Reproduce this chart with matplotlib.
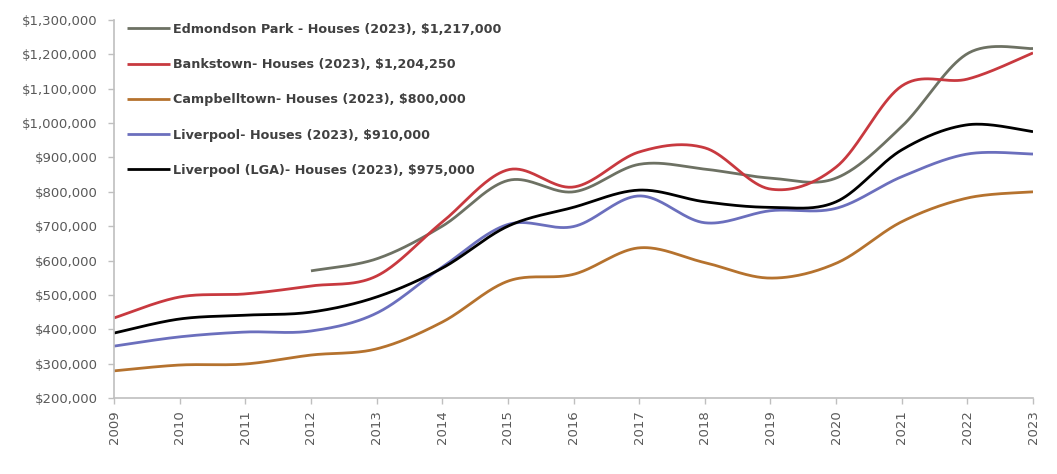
import numpy as np
import matplotlib
matplotlib.use("Agg")
import matplotlib.pyplot as plt
from matplotlib.ticker import FuncFormatter, MultipleLocator

years = [2009, 2010, 2011, 2012, 2013, 2014, 2015, 2016, 2017, 2018, 2019, 2020, 2021, 2022, 2023]

edmondson = [None, None, None, 570000, 605000, 700000, 833000, 800000, 880000, 866000, 840000, 840000, 990000, 1202000, 1217000]
bankstown = [433000, 494000, 503000, 526000, 555000, 712000, 864000, 814000, 916000, 928000, 808000, 872000, 1108000, 1128000, 1204250]
campbelltown = [279000, 296000, 299000, 325000, 343000, 421000, 540000, 560000, 637000, 594000, 549000, 592000, 713000, 782000, 800000]
liverpool = [351000, 378000, 392000, 395000, 447000, 581000, 705000, 699000, 788000, 710000, 745000, 752000, 844000, 910000, 910000]
liverpool_lga = [389000, 430000, 441000, 450000, 494000, 578000, 700000, 755000, 805000, 771000, 755000, 771000, 922000, 995000, 975000]

labels = [
    "Edmondson Park - Houses (2023), $1,217,000",
    "Bankstown- Houses (2023), $1,204,250",
    "Campbelltown- Houses (2023), $800,000",
    "Liverpool- Houses (2023), $910,000",
    "Liverpool (LGA)- Houses (2023), $975,000",
]
series = [edmondson, bankstown, campbelltown, liverpool, liverpool_lga]
colors = ["#6d7163", "#c8393f", "#b5722e", "#6b6fbd", "#000000"]


def smooth(xs, ys, n=40):
    """Excel-like smoothed line (Catmull-Rom as cubic Bezier)."""
    xs = np.asarray(xs, float)
    ys = np.asarray(ys, float)
    px, py = [], []
    m = len(xs)
    for i in range(m - 1):
        x0, y0 = (xs[i - 1], ys[i - 1]) if i > 0 else (xs[i], ys[i])
        x1, y1 = xs[i], ys[i]
        x2, y2 = xs[i + 1], ys[i + 1]
        x3, y3 = (xs[i + 2], ys[i + 2]) if i + 2 < m else (xs[i + 1], ys[i + 1])
        c1x, c1y = x1 + (x2 - x0) / 6, y1 + (y2 - y0) / 6
        c2x, c2y = x2 - (x3 - x1) / 6, y2 - (y3 - y1) / 6
        t = np.linspace(0, 1, n, endpoint=(i == m - 2))
        a = (1 - t) ** 3
        b = 3 * (1 - t) ** 2 * t
        c = 3 * (1 - t) * t ** 2
        d = t ** 3
        px.extend(a * x1 + b * c1x + c * c2x + d * x2)
        py.extend(a * y1 + b * c1y + c * c2y + d * y2)
    return np.array(px), np.array(py)


fig = plt.figure(figsize=(10.57, 4.74), dpi=100)
ax = fig.add_axes([0.1079, 0.1603, 0.8694, 0.7975])

for vals, lab, col in zip(series, labels, colors):
    xs = [y for y, v in zip(years, vals) if v is not None]
    vs = [v for v in vals if v is not None]
    sx, sy = smooth(xs, vs)
    ax.plot(sx, sy, color=col, lw=2.0, label=lab, solid_capstyle="butt")

ax.set_xlim(2009, 2023)
ax.set_ylim(200000, 1300000)
ax.yaxis.set_major_locator(MultipleLocator(100000))
ax.yaxis.set_major_formatter(FuncFormatter(lambda v, p: "${:,.0f}".format(v)))
ax.set_xticks(years)
ax.set_xticklabels([str(y) for y in years], rotation=90)

for s in ["top", "right"]:
    ax.spines[s].set_visible(False)
for s in ["left", "bottom"]:
    ax.spines[s].set_color("#bfbfbf")
    ax.spines[s].set_linewidth(1.2)
ax.tick_params(axis="both", colors="#bfbfbf", labelcolor="#595959", labelsize=9.5, length=4, width=1)
ax.tick_params(axis="y", pad=8)
ax.tick_params(axis="x", pad=5)

leg = ax.legend(loc="upper left", bbox_to_anchor=(0.009, 1.006), frameon=False,
                handlelength=3.35, handletextpad=0.22, labelspacing=1.74,
                borderaxespad=0.0, prop={"size": 9.2, "weight": "bold"})
for t in leg.get_texts():
    t.set_color("#404040")

fig.savefig("out.png", dpi=100)
